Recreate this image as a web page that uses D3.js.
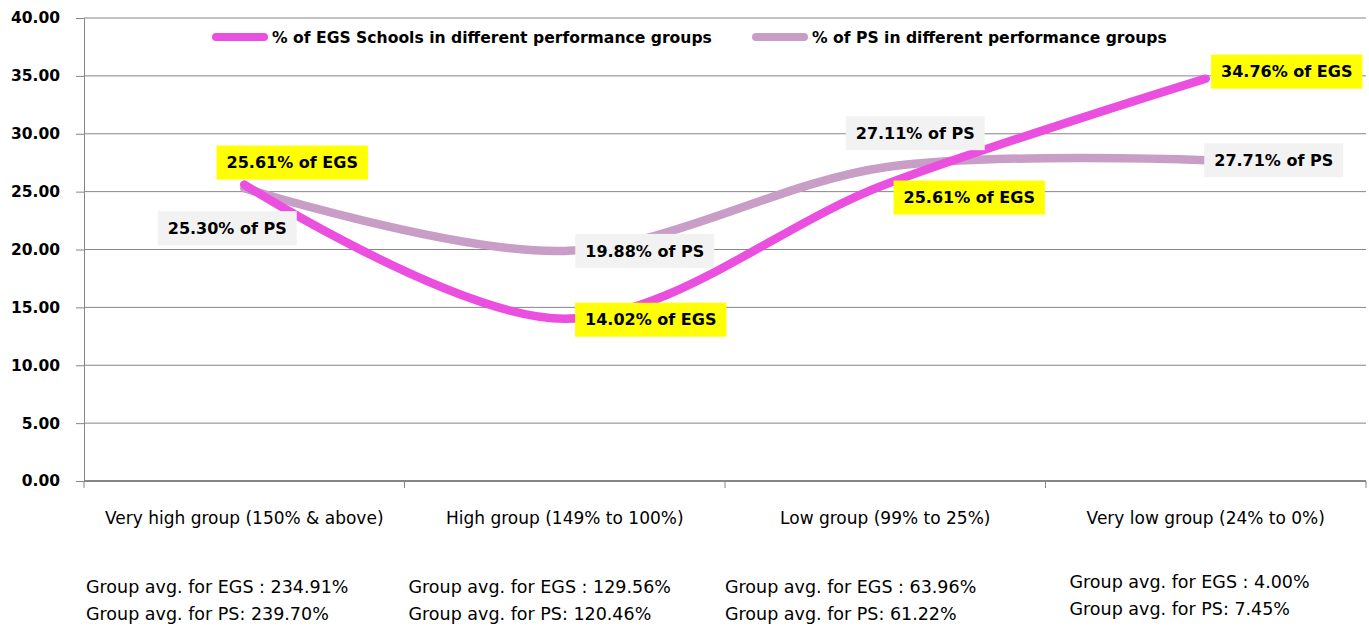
<!DOCTYPE html>
<html>
<head>
<meta charset="utf-8">
<script src="https://cdn.jsdelivr.net/npm/d3@7"></script>
<style>
  body { margin: 0; background: #fff; }
  svg { display: block; }
</style>
</head>
<body>
<div id="chart"></div>
<script>
// data
const categories = ["Very high group (150% & above)", "High group (149% to 100%)", "Low group (99% to 25%)", "Very low group (24% to 0%)"];
const egsValues = [25.61, 14.02, 25.61, 34.76];
const psValues = [25.30, 19.88, 27.11, 27.71];
const egsAvg = ["234.91%", "129.56%", "63.96%", "4.00%"];
const psAvg = ["239.70%", "120.46%", "61.22%", "7.45%"];
const yTicks = [0, 5, 10, 15, 20, 25, 30, 35, 40];

// label placement (offset from point, px)
const egsLabelOffset = [[48, -22], [86, 1], [84, 13], [81, -7]];
const psLabelOffset = [[-17, 40], [80, 0], [30, -34], [68, 0]];
const avgOffset = [[2, 0], [4, 0], [0, 0], [24, -5]];

const W = 1369, H = 629;
const margin = { top: 18, right: 3, bottom: 148, left: 84 };
const width = W - margin.left - margin.right;
const height = H - margin.top - margin.bottom;

const egsColor = "#ea4fe0";
const psColor = "#c89dc6";
const gridColor = "#868686";

const svg = d3.select("#chart").append("svg")
    .attr("width", W)
    .attr("height", H)
    .style("font-family", "'DejaVu Sans', sans-serif");

const g = svg.append("g")
    .attr("transform", `translate(${margin.left},${margin.top})`);

const xScale = d3.scaleBand()
    .domain(categories)
    .range([0, width])
    .padding(0);

const yScale = d3.scaleLinear()
    .domain([0, 40])
    .range([height, 0]);

// グリッド
g.selectAll(".grid")
    .data(yTicks)
    .enter()
    .append("line")
    .attr("class", "grid")
    .attr("x1", 0)
    .attr("x2", width)
    .attr("y1", d => yScale(d))
    .attr("y2", d => yScale(d))
    .attr("stroke", gridColor)
    .attr("stroke-width", 1);

// y axis
const yAxis = g.append("g")
    .call(d3.axisLeft(yScale).tickValues(yTicks).tickFormat(d3.format(".2f")).tickSize(8).tickPadding(16));
yAxis.select(".domain").attr("stroke", gridColor);
yAxis.selectAll(".tick line").attr("stroke", gridColor);
yAxis.selectAll(".tick text")
    .attr("font-family", "'DejaVu Sans', sans-serif")
    .attr("font-size", 15.5)
    .attr("font-weight", "bold")
    .attr("fill", "#000");

// x axis
const xAxis = g.append("g")
    .attr("transform", `translate(0,${height})`);
xAxis.append("line")
    .attr("x1", 0).attr("x2", width)
    .attr("stroke", gridColor).attr("stroke-width", 2);
xAxis.selectAll(".xtick")
    .data(categories.map(c => xScale(c)).concat([width]))
    .enter()
    .append("line")
    .attr("x1", d => d).attr("x2", d => d)
    .attr("y1", 0).attr("y2", 7)
    .attr("stroke", gridColor);
xAxis.selectAll(".xlabel")
    .data(categories)
    .enter()
    .append("text")
    .attr("x", d => xScale(d) + xScale.bandwidth() / 2)
    .attr("y", 43)
    .attr("text-anchor", "middle")
    .attr("font-size", 17)
    .attr("fill", "#000")
    .text(d => d);

// group averages
categories.forEach((c, i) => {
    const x = margin.left + xScale(c) + avgOffset[i][0];
    const y = margin.top + height + avgOffset[i][1];
    svg.append("text")
        .attr("x", x).attr("y", y + 112)
        .attr("font-size", 17.5)
        .attr("fill", "#000")
        .text("Group avg. for EGS : " + egsAvg[i]);
    svg.append("text")
        .attr("x", x).attr("y", y + 139)
        .attr("font-size", 17.5)
        .attr("fill", "#000")
        .text("Group avg. for PS: " + psAvg[i]);
});

// lines
const line = d3.line()
    .x((d, i) => xScale(categories[i]) + xScale.bandwidth() / 2)
    .y(d => yScale(d))
    .curve(d3.curveCardinal.tension(0));

g.append("path")
    .datum(psValues)
    .attr("fill", "none")
    .attr("stroke", psColor)
    .attr("stroke-width", 8.5)
    .attr("stroke-linecap", "round")
    .attr("d", line);

g.append("path")
    .datum(egsValues)
    .attr("fill", "none")
    .attr("stroke", egsColor)
    .attr("stroke-width", 8.5)
    .attr("stroke-linecap", "round")
    .attr("d", line);

// data labels
function drawLabels(values, offsets, suffix, bg) {
    values.forEach((v, i) => {
        const px = xScale(categories[i]) + xScale.bandwidth() / 2 + offsets[i][0];
        const py = yScale(v) + offsets[i][1];
        const lg = g.append("g");
        const rect = lg.append("rect").attr("fill", bg);
        const t = lg.append("text")
            .attr("x", px)
            .attr("y", py)
            .attr("dy", "0.36em")
            .attr("text-anchor", "middle")
            .attr("font-size", 16)
            .attr("font-weight", "bold")
            .attr("fill", "#000")
            .text(d3.format(".2f")(v) + "% of " + suffix);
        const bb = t.node().getBBox();
        rect.attr("x", bb.x - 10)
            .attr("y", py - 17)
            .attr("width", bb.width + 20)
            .attr("height", 34);
    });
}
drawLabels(psValues, psLabelOffset, "PS", "#f2f2f2");
drawLabels(egsValues, egsLabelOffset, "EGS", "#ffff00");

// legend
const legend = svg.append("g").attr("transform", "translate(212,37)");
const legendItems = [
    { name: "% of EGS Schools in different performance groups", color: egsColor, x: 0 },
    { name: "% of PS in different performance groups", color: psColor, x: 540 }
];
legendItems.forEach(d => {
    legend.append("line")
        .attr("x1", d.x + 4).attr("x2", d.x + 52)
        .attr("stroke", d.color)
        .attr("stroke-width", 8)
        .attr("stroke-linecap", "round");
    legend.append("text")
        .attr("x", d.x + 60)
        .attr("y", 0)
        .attr("dy", "0.36em")
        .attr("font-size", 15.6)
        .attr("font-weight", "bold")
        .attr("fill", "#000")
        .text(d.name);
});
</script>
</body>
</html>
